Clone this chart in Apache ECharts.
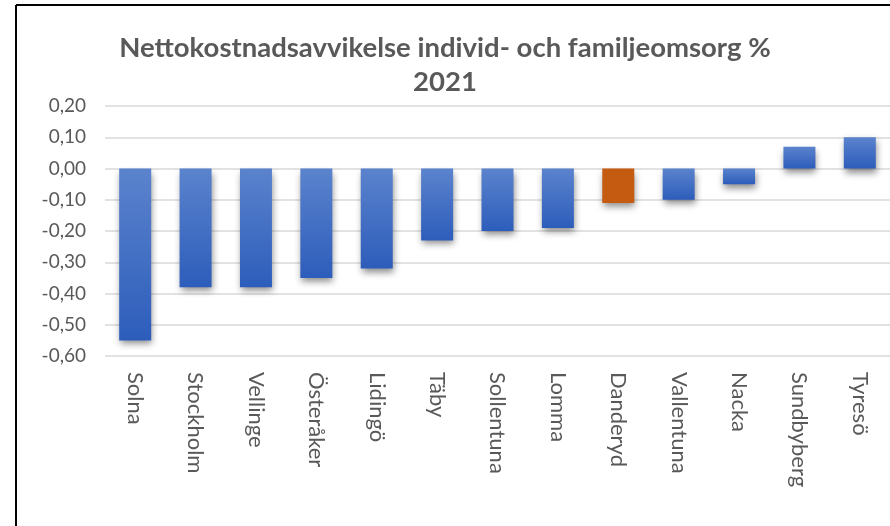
<!DOCTYPE html>
<html>
<head>
<meta charset="utf-8">
<script src="https://cdn.jsdelivr.net/npm/echarts@6/dist/echarts.min.js"></script>
<style>
  html, body { margin: 0; padding: 0; background: #fff; }
  #chart { width: 890px; height: 526px; }
</style>
</head>
<body>
<div id="chart"></div>
<script>
// data
const municipalities = [
  "Solna", "Stockholm", "Vellinge", "Österåker", "Lidingö", "Täby",
  "Sollentuna", "Lomma", "Danderyd", "Vallentuna", "Nacka", "Sundbyberg", "Tyresö"
];
const deviation = [
  -0.55, -0.38, -0.38, -0.35, -0.32, -0.23,
  -0.20, -0.19, -0.11, -0.10, -0.05, 0.07, 0.10
];
const highlight = "Danderyd";
const yTicks = { min: -0.6, max: 0.2, step: 0.1 };

const chart = echarts.init(document.getElementById("chart"));

const textColor = "#595959";
const blueFill = new echarts.graphic.LinearGradient(0, 0, 0, 1, [
  { offset: 0, color: "#5b83cd" },
  { offset: 1, color: "#2d5dbb" },
]);
const barShadow = {
  shadowBlur: 7,
  shadowOffsetX: 1,
  shadowOffsetY: 4,
  shadowColor: "rgba(0,0,0,0.45)",
};

chart.setOption({
  backgroundColor: "#fff",
  animation: false,
  title: {
    text: "Nettokostnadsavvikelse individ- och familjeomsorg %\n2021",
    left: "center",
    top: 26,
    textStyle: {
      color: textColor,
      fontFamily: "Lato, sans-serif",
      fontWeight: 700,
      fontSize: 27.5,
      lineHeight: 34,
    },
  },
  grid: { left: 105, right: -2, top: 106, bottom: 170 },
  xAxis: {
    type: "category",
    data: municipalities,
    position: "bottom",
    axisLine: { show: false, onZero: false },
    axisTick: { show: false },
    axisLabel: {
      rotate: -90,
      margin: 16,
      color: textColor,
      fontFamily: "Lato, sans-serif",
      fontSize: 22,
    },
  },
  yAxis: {
    type: "value",
    min: yTicks.min,
    max: yTicks.max,
    interval: yTicks.step,
    axisLine: { show: false },
    axisTick: { show: false },
    splitLine: { lineStyle: { color: "#d9d9d9", width: 1.5 } },
    axisLabel: {
      margin: 19,
      color: textColor,
      fontFamily: "Lato, sans-serif",
      fontSize: 19,
      formatter: (v) => (Math.abs(v) < 1e-9 ? 0 : v).toFixed(2).replace(".", ","),
    },
  },
  series: [
    {
      type: "bar",
      barWidth: 32,
      data: deviation.map((v, i) => ({
        value: v,
        itemStyle: {
          color: municipalities[i] === highlight ? "#c55a11" : blueFill,
          ...barShadow,
        },
      })),
    },
  ],
  graphic: [
    {
      type: "line",
      shape: { x1: 16, y1: 5, x2: 890, y2: 5 },
      style: { stroke: "#000", lineWidth: 2 },
    },
    {
      type: "line",
      shape: { x1: 16, y1: 5, x2: 16, y2: 526 },
      style: { stroke: "#000", lineWidth: 2 },
    },
  ],
});
</script>
</body>
</html>
